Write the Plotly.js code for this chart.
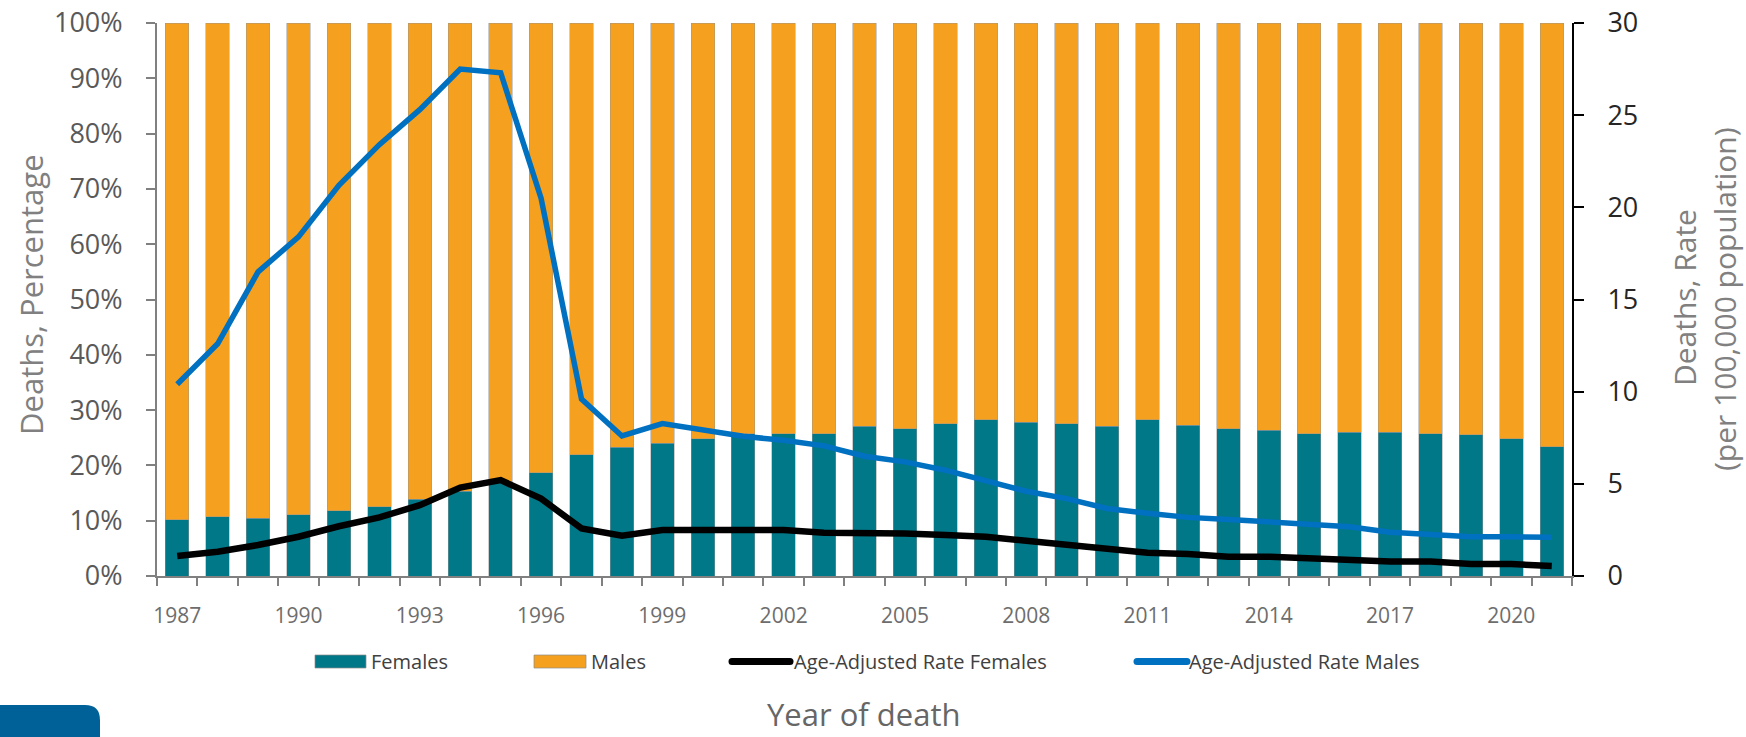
<!DOCTYPE html>
<html>
<head>
<meta charset="utf-8">
<script src="https://cdn.plot.ly/plotly-3.0.1.min.js"></script>
<style>
  html, body { margin: 0; padding: 0; background: #ffffff; }
  #chart { width: 1746px; height: 737px; }
</style>
</head>
<body>
<div id="chart"></div>
<script>
// ---------------- data ----------------
const years = [1987, 1988, 1989, 1990, 1991, 1992, 1993, 1994, 1995, 1996,
               1997, 1998, 1999, 2000, 2001, 2002, 2003, 2004, 2005, 2006,
               2007, 2008, 2009, 2010, 2011, 2012, 2013, 2014, 2015, 2016,
               2017, 2018, 2019, 2020, 2021];

// share of deaths, percent
const femalesPct = [10.2, 10.7, 10.4, 11.1, 11.8, 12.5, 13.9, 15.3, 17.0, 18.7,
                    21.9, 23.3, 24.0, 24.8, 25.7, 25.7, 25.7, 27.1, 26.6, 27.5,
                    28.3, 27.8, 27.5, 27.1, 28.3, 27.3, 26.6, 26.4, 25.7, 26.0,
                    26.0, 25.7, 25.5, 24.8, 23.4];
const malesPct   = [89.8, 89.3, 89.6, 88.9, 88.2, 87.5, 86.1, 84.7, 83.0, 81.3,
                    78.1, 76.7, 76.0, 75.2, 74.3, 74.3, 74.3, 72.9, 73.4, 72.5,
                    71.7, 72.2, 72.5, 72.9, 71.7, 72.7, 73.4, 73.6, 74.3, 74.0,
                    74.0, 74.3, 74.5, 75.2, 76.6];

// age-adjusted death rate per 100,000 population
const rateFemales = [1.08, 1.32, 1.68, 2.13, 2.70, 3.18, 3.84, 4.80, 5.20, 4.20,
                     2.58, 2.18, 2.49, 2.49, 2.51, 2.49, 2.35, 2.35, 2.31, 2.22,
                     2.13, 1.91, 1.68, 1.41, 1.26, 1.19, 1.05, 1.05, 0.96, 0.83,
                     0.78, 0.78, 0.65, 0.65, 0.54];
const rateMales   = [10.4, 12.6, 16.5, 18.4, 21.2, 23.4, 25.3, 27.5, 27.3, 20.5,
                     9.6, 7.6, 8.27, 7.9, 7.58, 7.36, 7.06, 6.5, 6.19, 5.74,
                     5.2, 4.6, 4.2, 3.66, 3.4, 3.18, 3.07, 2.94, 2.78, 2.67,
                     2.37, 2.27, 2.13, 2.13, 2.1];

const xTickYears = [1987, 1990, 1993, 1996, 1999, 2002, 2005, 2008, 2011, 2014, 2017, 2020];
const xTickText  = ['1987', '1990', '1993', '1996', '1999', '2002', '2005', '2008', '2011', '2014', '2017', '2020'];

const seriesNames = ['Females', 'Males', 'Age-Adjusted Rate Females', 'Age-Adjusted Rate Males'];

// ---------------- styling ----------------
const TEAL = '#007888';
const ORANGE = '#F5A01E';
const BLUE = '#0070C0';
const BLACK = '#000000';
const FONT = 'Open Sans, Noto Sans, DejaVu Sans, sans-serif';

const W = 1746, H = 737;
const M = { l: 157, r: 174, t: 23, b: 161 };
const PW = W - M.l - M.r, PH = H - M.t - M.b;
const px2x = px => (px - M.l) / PW;
const py2y = py => (H - M.b - py) / PH;

const traces = [
  {
    type: 'bar', name: seriesNames[0], x: years, y: femalesPct,
    marker: { color: TEAL, line: { color: 'rgba(150,150,150,0.6)', width: 0.8 } },
    hoverinfo: 'x+y'
  },
  {
    type: 'bar', name: seriesNames[1], x: years, y: malesPct,
    marker: { color: ORANGE, line: { color: 'rgba(150,150,150,0.6)', width: 0.8 } },
    hoverinfo: 'x+y'
  },
  {
    type: 'scatter', mode: 'lines', name: seriesNames[3], x: years, y: rateMales,
    yaxis: 'y2', line: { color: BLUE, width: 5.5 }
  },
  {
    type: 'scatter', mode: 'lines', name: seriesNames[2], x: years, y: rateFemales,
    yaxis: 'y2', line: { color: BLACK, width: 6.5 }
  }
];

// ---------------- custom legend (wide swatches like the original) ----------------
const shapes = [];
const annotations = [];
const legY = 661.5;
function swatch(x0, x1, color) {
  shapes.push({ type: 'rect', xref: 'paper', yref: 'paper',
    x0: px2x(x0), x1: px2x(x1), y0: py2y(legY + 6.5), y1: py2y(legY - 6.5),
    fillcolor: color, line: { color: 'rgba(140,140,140,0.7)', width: 1 } });
}
function lineSwatch(x0, x1, color, w) {
  shapes.push({ type: 'line', xref: 'paper', yref: 'paper',
    x0: px2x(x0), x1: px2x(x1), y0: py2y(legY), y1: py2y(legY),
    line: { color: color, width: w } });
  [x0, x1].forEach(cx => shapes.push({ type: 'circle', xref: 'paper', yref: 'paper',
    x0: px2x(cx - w / 2), x1: px2x(cx + w / 2), y0: py2y(legY + w / 2), y1: py2y(legY - w / 2),
    fillcolor: color, line: { width: 0 } }));
}
function legText(x, txt) {
  annotations.push({ xref: 'paper', yref: 'paper', x: px2x(x), y: py2y(legY),
    xanchor: 'left', yanchor: 'middle', showarrow: false, text: txt,
    font: { family: FONT, size: 20, color: '#404040' } });
}
swatch(315, 366, TEAL);   legText(369, seriesNames[0]);
swatch(534, 586, ORANGE); legText(589, seriesNames[1]);
lineSwatch(732, 790, BLACK, 7); legText(792, seriesNames[2]);
lineSwatch(1137, 1187, BLUE, 7); legText(1187, seriesNames[3]);

// bottom-left badge
(function () {
  const x0 = px2x(-5), x1 = px2x(100), xr = px2x(85);
  const yt = py2y(705), yb = py2y(745), yr = py2y(720);
  shapes.push({ type: 'path', xref: 'paper', yref: 'paper',
    path: `M${x0},${yb} L${x0},${yt} L${xr},${yt} Q${x1},${yt} ${x1},${yr} L${x1},${yb} Z`,
    fillcolor: '#006199', line: { width: 0 } });
})();

// axis titles
annotations.push({ xref: 'paper', yref: 'paper', x: px2x(31), y: py2y(294),
  xanchor: 'center', yanchor: 'middle', showarrow: false, textangle: -90,
  text: 'Deaths, Percentage', font: { family: FONT, size: 31, color: '#808080' } });
annotations.push({ xref: 'paper', yref: 'paper', x: px2x(1684), y: py2y(298),
  xanchor: 'center', yanchor: 'middle', showarrow: false, textangle: -90,
  text: 'Deaths, Rate', font: { family: FONT, size: 30, color: '#808080' } });
annotations.push({ xref: 'paper', yref: 'paper', x: px2x(1724), y: py2y(299),
  xanchor: 'center', yanchor: 'middle', showarrow: false, textangle: -90,
  text: '(per 100,000 population)', font: { family: FONT, size: 30, color: '#808080' } });
annotations.push({ xref: 'paper', yref: 'paper', x: px2x(863), y: py2y(737),
  xanchor: 'center', yanchor: 'bottom', showarrow: false,
  text: 'Year of death', font: { family: FONT, size: 31, color: '#666666' } });

const layout = {
  width: W, height: H,
  margin: M,
  paper_bgcolor: '#ffffff', plot_bgcolor: '#ffffff',
  font: { family: FONT },
  barmode: 'stack', bargap: 0.42,
  showlegend: false,
  xaxis: {
    type: 'linear', range: [years[0] - 0.5, years[years.length - 1] + 0.5],
    tickmode: 'array', tickvals: xTickYears, ticktext: xTickText,
    ticks: '', showline: true, linecolor: '#808080', linewidth: 2,
    showgrid: false, zeroline: false,
    tickfont: { family: FONT, size: 21, color: '#6d6d6d' },
    ticklabelstandoff: 20,
    minor: { tick0: years[0] - 0.5, dtick: 1, ticks: 'outside', ticklen: 8,
             tickwidth: 2, tickcolor: '#808080', showgrid: false }
  },
  yaxis: {
    range: [0, 100], dtick: 10, ticksuffix: '%',
    showline: true, linecolor: '#808080', linewidth: 2,
    ticks: 'outside', ticklen: 9, tickwidth: 2, tickcolor: '#808080',
    showgrid: false, zeroline: false,
    tickfont: { family: FONT, size: 27, color: '#595959' },
    ticklabelstandoff: 18
  },
  yaxis2: {
    overlaying: 'y', side: 'right', range: [0, 30], dtick: 5,
    showline: true, linecolor: '#000000', linewidth: 2,
    ticks: 'outside', ticklen: 10, tickwidth: 2, tickcolor: '#000000',
    showgrid: false, zeroline: false,
    tickfont: { family: FONT, size: 27, color: '#262626' },
    ticklabelstandoff: 18
  },
  shapes: shapes,
  annotations: annotations
};

Plotly.newPlot('chart', traces, layout, { displayModeBar: false, staticPlot: true });
</script>
</body>
</html>
